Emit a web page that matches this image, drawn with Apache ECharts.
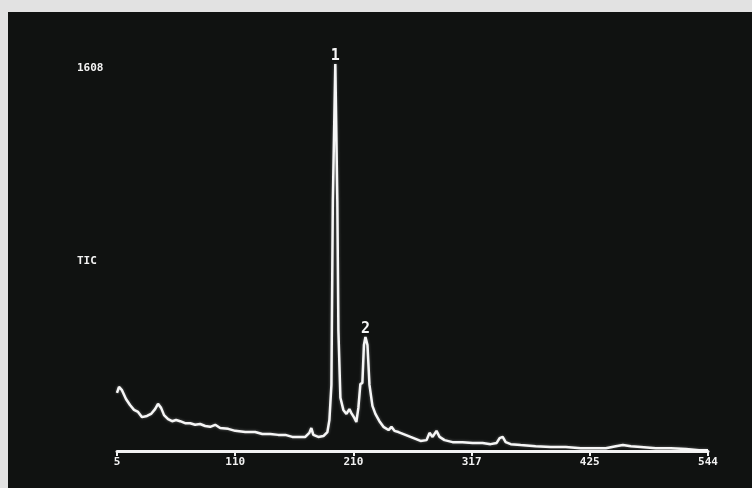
<!DOCTYPE html>
<html>
<head>
<meta charset="utf-8">
<script src="https://cdn.jsdelivr.net/npm/echarts@6/dist/echarts.min.js"></script>
<style>
html,body{margin:0;padding:0;background:#e2e2e2;}
#c{width:752px;height:488px;}
</style>
</head>
<body>
<div id="c"></div>
<script>
// Tick labels (scan numbers) shown at equally spaced ticks
var tickLabels = ['5', '110', '210', '317', '425', '544'];
// Trace position along the axis (0..500, one tick every 100)
var traceX = [0,1.7,4.2,7.6,11.0,14.4,17.8,21.2,25.4,28.8,32.2,34.7,37.3,39.8,43.2,46.6,50.0,53.4,57.6,61.9,66.1,70.3,74.6,78.8,83.1,87.3,94.1,100,108.5,116.9,122.9,129.7,136.4,142.4,148.3,155.1,159.3,162.7,164.4,166.1,170.3,174.6,178.0,179.7,181.4,182.6,184.7,186.4,187.3,189.0,191.5,194.1,196.6,198.3,200.8,202.5,204.2,205.9,207.6,208.9,210.2,211.9,213.6,216.1,218.6,222.0,225.4,229.7,232.2,234.7,238.1,242.4,248.3,256.8,261.9,264.4,267.0,270.3,272.9,277.1,283.9,292.4,300.8,309.3,316.1,321.2,323.7,326.3,328.8,333.1,341.5,354.2,366.9,379.7,392.4,403.4,413.6,422.0,428.0,434.7,443.2,455.9,468.6,481.4,492.4,500];
// Total ion current (% of max)
var tic = [14.4,15.9,15.1,12.9,11.4,10.2,9.7,8.4,8.7,9.2,10.4,11.7,10.7,8.9,7.9,7.4,7.7,7.4,6.9,6.9,6.5,6.7,6.2,6.0,6.5,5.7,5.5,5.0,4.7,4.7,4.2,4.2,4.0,4.0,3.5,3.5,3.5,4.5,5.7,4.0,3.5,3.7,4.7,7.7,16.4,62,96,62,30,13.2,10.2,9.2,10.4,9.4,8.2,7.2,10.7,16.6,16.9,26.3,28.3,26.3,16.4,11.2,9.2,7.4,6.0,5.2,6.0,5.0,4.7,4.2,3.5,2.5,2.7,4.5,3.5,5.0,3.5,2.7,2.2,2.2,2.0,2.0,1.7,2.0,3.2,3.5,2.2,1.7,1.5,1.2,1.0,1.0,0.7,0.7,0.7,1.2,1.5,1.2,1.0,0.7,0.7,0.5,0.2,0.2];
// Peak annotations
var peakNames = ['1', '2'];
var peakX = [184.7, 210.2];
var peakY = [96, 28.3];
var scaleLabel = '1608';
var traceLabel = 'TIC';

var data = traceX.map(function (x, i) { return [x, tic[i]]; });
var marks = peakNames.map(function (n, i) { return { name: n, coord: [peakX[i], peakY[i]] }; });

var chart = echarts.init(document.getElementById('c'), null, { renderer: 'canvas' });
var fontFam = '"DejaVu Sans Mono", monospace';
chart.setOption({
  backgroundColor: '#e2e2e2',
  animation: false,
  graphic: [
    { type: 'rect', z: -10, shape: { x: 8, y: 12, width: 744, height: 476 }, style: { fill: '#101211' } },
    { type: 'text', left: 77, top: 63, style: { text: scaleLabel, fill: '#f4f4f4', font: 'bold 11px ' + fontFam } },
    { type: 'text', left: 77, top: 256, style: { text: traceLabel, fill: '#f4f4f4', font: 'bold 11px ' + fontFam } }
  ],
  grid: { left: 117, right: 44, top: 48, bottom: 37 },
  xAxis: {
    type: 'value', min: 0, max: 500, interval: 100,
    axisLine: { show: true, lineStyle: { color: '#f2f2f2', width: 3 } },
    axisTick: { show: true, length: 5, lineStyle: { color: '#f2f2f2', width: 2 } },
    axisLabel: {
      color: '#f2f2f2', fontSize: 11, fontWeight: 'bold', fontFamily: fontFam, margin: 6,
      formatter: function (v) { return tickLabels[Math.round(v / 100)]; }
    },
    splitLine: { show: false }
  },
  yAxis: { type: 'value', min: 0, max: 100, show: false, splitLine: { show: false } },
  series: [{
    type: 'line',
    data: data,
    showSymbol: false,
    smooth: false,
    lineStyle: { color: '#f6f6f6', width: 2.5, shadowColor: 'rgba(255,255,255,0.35)', shadowBlur: 3 },
    markPoint: {
      symbol: 'circle', symbolSize: 1,
      itemStyle: { color: 'rgba(0,0,0,0)' },
      label: {
        show: true, position: 'top', distance: 0,
        color: '#f6f6f6', fontSize: 15, fontWeight: 'bold', fontFamily: fontFam,
        formatter: function (p) { return p.name; }
      },
      data: marks
    }
  }]
});
</script>
</body>
</html>
